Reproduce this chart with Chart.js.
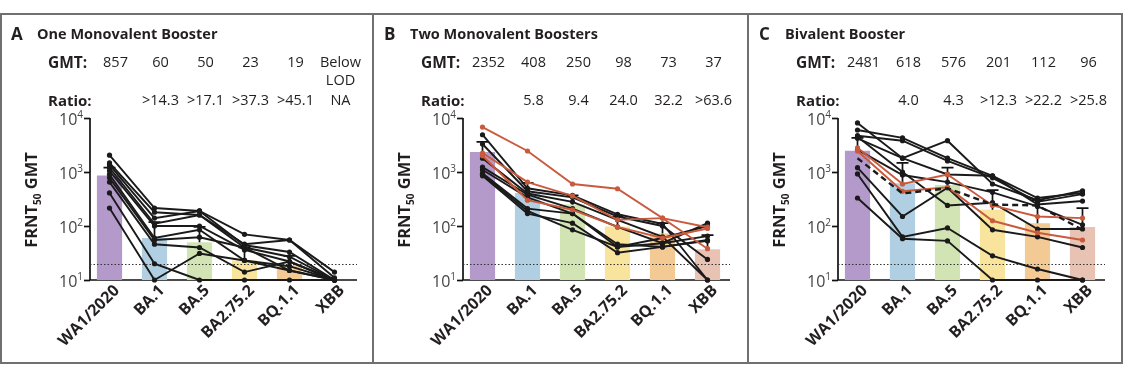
<!DOCTYPE html>
<html><head><meta charset="utf-8">
<script src="https://cdn.jsdelivr.net/npm/chart.js@4"></script>
<style>
body{margin:0;background:#fff;width:1125px;height:381px;overflow:hidden;position:relative;font-family:'Open Sans',sans-serif;color:#231f20}
.frame{position:absolute;left:0;top:13px;width:1119px;height:347px;border:2px solid #707070}
.dv{position:absolute;top:13px;width:2px;height:351px;background:#707070}
canvas{position:absolute}
.t{position:absolute;white-space:nowrap}
sup{font-size:10px;position:relative;top:-7px;vertical-align:baseline}
sub{font-size:10px;position:relative;top:4px;vertical-align:baseline}
</style></head><body>
<div class="frame"></div>
<div class="dv" style="left:372px"></div>
<div class="dv" style="left:747px"></div>
<canvas id="cA" width="372" height="348" style="left:1px;top:14px"></canvas>
<canvas id="cB" width="372" height="348" style="left:374px;top:14px"></canvas>
<canvas id="cC" width="372" height="348" style="left:749px;top:14px"></canvas>
<script>
// ---------- data ----------
const categories = ['WA1/2020','BA.1','BA.5','BA2.75.2','BQ.1.1','XBB'];
const yTickValues = [10, 100, 1000, 10000];
const yTickLabels = ['10<sup>1</sup>','10<sup>2</sup>','10<sup>3</sup>','10<sup>4</sup>'];
const lod = 20;

// Panel A
const titleA = 'One Monovalent Booster';
const gmtA = [857, 60, 50, 23, 19, null];
const errA = [1200, 118, 96, 40, 28, null];
const gmtTextA = ['857','60','50','23','19','Below\nLOD'];
const ratioTextA = ['','>14.3','>17.1','>37.3','>45.1','NA'];
const blackA = [
  [2050, 215, 190, 70, 55, 14],
  [1480, 180, 160, 46, 55, 11],
  [1350, 140, 190, 44, 33, 10],
  [1200, 110, 160, 40, 27, 10],
  [1050, 100, 100, 36, 22, 10],
  [900, 60, 85, 23, 18, 10],
  [780, 55, 62, 40, 15, 10],
  [650, 46, 40, 14, 22, 10],
  [410, 20, 10, 10, 10, 10],
  [215, 10, 31, 23, 15, 10]
];
const redA = [];
const dashA = [];

// Panel B
const titleB = 'Two Monovalent Boosters';
const gmtB = [2352, 408, 250, 98, 73, 37];
const errB = [3600, 630, 370, 147, 113, 68];
const gmtTextB = ['2352','408','250','98','73','37'];
const ratioTextB = ['','5.8','9.4','24.0','32.2','>63.6'];
const blackB = [
  [4900, 500, 370, 165, 110, 10],
  [3300, 440, 340, 150, 100, 24],
  [1800, 400, 280, 130, 63, 10],
  [1230, 380, 210, 96, 48, 113],
  [1100, 340, 170, 46, 41, 53],
  [950, 210, 170, 41, 48, 65],
  [850, 170, 113, 32, 41, 55],
  [900, 190, 85, 41, 60, 100]
];
const redB = [
  [6800, 2450, 600, 490, 140, 95],
  [2250, 650, 360, 130, 140, 38],
  [2000, 300, 200, 96, 60, 90]
];
const dashB = [];

// Panel C
const titleC = 'Bivalent Booster';
const gmtC = [2481, 618, 576, 201, 112, 96];
const errC = [4300, 1470, 1200, 460, 300, 215];
const gmtTextC = ['2481','618','576','201','112','96'];
const ratioTextC = ['','4.0','4.3','>12.3','>22.2','>25.8'];
const blackC = [
  [8100, 1800, 3800, 600, 300, 450],
  [6000, 4300, 1800, 850, 330, 410],
  [4700, 3800, 1600, 780, 280, 390],
  [4200, 1800, 900, 850, 250, 290],
  [4500, 1000, 240, 270, 88, 88],
  [2600, 880, 650, 420, 230, 105],
  [1200, 150, 510, 85, 63, 40],
  [920, 63, 92, 28, 16, 10],
  [330, 58, 53, 10, 10, 10]
];
const redC = [
  [2800, 600, 900, 240, 150, 140],
  [2450, 440, 520, 125, 75, 55]
];
const dashC = [1800, 400, 500, 250, 240, 85];

// ---------- style ----------
const barColors = ['#b39aca','#b0cfe2','#d2e4b3','#f8e49c','#f3c994','#e8c3b4'];
const black = '#1a1a1a';
const red = '#c95a3e';

const decor = {
  id: 'decor',
  beforeDatasetsDraw(chart) {
    const {ctx, chartArea: a, scales: {y}} = chart;
    const ax = a.left + 3;
    ctx.save();
    ctx.strokeStyle = '#111'; ctx.lineWidth = 1.7;
    ctx.beginPath();
    ctx.moveTo(ax, a.top); ctx.lineTo(ax, a.bottom); ctx.lineTo(a.right, a.bottom);
    ctx.stroke();
    yTickValues.forEach(v => {
      const py = Math.round(y.getPixelForValue(v)) + 0.5;
      ctx.beginPath(); ctx.moveTo(ax - 6, py); ctx.lineTo(ax, py); ctx.stroke();
    });
    ctx.restore();
  },
  afterDatasetDraw(chart, args) {
    if (args.index !== 0) return;
    const {ctx, chartArea: a, scales: {x, y}} = chart;
    const cfg = chart.options.plugins.decor;
    ctx.save();
    ctx.strokeStyle = '#333'; ctx.lineWidth = 1; ctx.setLineDash([1.5, 2]);
    const yl = Math.round(y.getPixelForValue(lod)) + 0.5;
    ctx.beginPath(); ctx.moveTo(a.left + 3, yl); ctx.lineTo(a.right, yl); ctx.stroke();
    ctx.setLineDash([]);
    ctx.strokeStyle = '#111'; ctx.lineWidth = 1.7;
    cfg.gmt.forEach((g, i) => {
      const e = cfg.err[i];
      if (g == null || e == null) return;
      const px = x.getPixelForValue(i);
      const y0 = y.getPixelForValue(g), y1 = y.getPixelForValue(e);
      ctx.beginPath(); ctx.moveTo(px, y0); ctx.lineTo(px, y1);
      ctx.moveTo(px - 6, y1); ctx.lineTo(px + 6, y1); ctx.stroke();
    });
    ctx.restore();
  }
};

function lineDs(d, color, order, dash) {
  return {
    type: 'line', data: d, borderColor: color, backgroundColor: color,
    borderWidth: dash ? 2.4 : 1.9, borderDash: dash ? [6, 4] : [],
    pointRadius: dash ? 0 : 2.6, pointBackgroundColor: color, pointBorderWidth: 0,
    tension: 0, order: order, clip: 8
  };
}

function makePanel(id, left, letter, title, gmt, err, gmtText, ratioText, blacks, reds, dash) {
  const datasets = [{
    type: 'bar', data: gmt.map(v => v == null ? null : v), backgroundColor: barColors,
    barPercentage: 0.56, categoryPercentage: 1, order: 10
  }];
  blacks.forEach(d => datasets.push(lineDs(d, black, 2)));
  reds.forEach(d => datasets.push(lineDs(d, red, 1)));
  if (dash.length) datasets.push(lineDs(dash, black, 0, true));
  const chart = new Chart(document.getElementById(id), {
    data: {labels: categories, datasets},
    options: {
      responsive: false, animation: false, devicePixelRatio: 1,
      layout: {padding: {left: 86, right: 16, top: 104, bottom: 82}},
      plugins: {legend: {display: false}, tooltip: {enabled: false}, decor: {gmt, err}},
      scales: {
        x: {type: 'category', offset: true, grid: {display: false, drawTicks: false}, border: {display: false},
            ticks: {display: false}, afterFit: s => { s.height = 0; }},
        y: {type: 'logarithmic', min: 10, max: 10000, grid: {display: false, drawTicks: false}, border: {display: false},
            ticks: {display: false}, afterFit: s => { s.width = 0; }}
      }
    },
    plugins: [decor]
  });
  const x = chart.scales.x, y = chart.scales.y, a = chart.chartArea;
  const top = 14;
  const T = (html, px, cy, align, css) => {
    const d = document.createElement('div');
    d.className = 't';
    d.innerHTML = html;
    const lh = 20;
    d.style.lineHeight = lh + 'px';
    d.style.height = lh + 'px';
    d.style.top = (cy - lh / 2) + 'px';
    if (align === 'left') { d.style.left = px + 'px'; }
    else if (align === 'center') { d.style.left = (px - 100) + 'px'; d.style.width = '200px'; d.style.textAlign = 'center'; }
    else { d.style.left = (px - 200) + 'px'; d.style.width = '200px'; d.style.textAlign = 'right'; }
    if (css) d.style.cssText += css;
    document.body.appendChild(d);
    return d;
  };
  T(letter, left + 10, 34, 'left', 'font-weight:700;font-size:17px;');
  T(title, left + 36, 34, 'left', 'font-weight:700;font-size:14.5px;');
  T('GMT:', left + 47, 62, 'left', 'font-weight:700;font-size:15.5px;');
  T('Ratio:', left + 47, 100, 'left', 'font-weight:700;font-size:15px;');
  categories.forEach((c, i) => {
    const cx = left + x.getPixelForValue(i) + 6;
    gmtText[i].split('\n').forEach((s, k) => T(s, cx, 62 + k * 18, 'center', 'font-size:14.5px;'));
    if (ratioText[i]) T(ratioText[i], cx, 100, 'center', 'font-size:14.5px;');
    const lx = left + x.getPixelForValue(i) + 6;
    T(c, lx, top + a.bottom + 7, 'right', 'font-weight:700;font-size:16px;transform-origin:100% 50%;transform:rotate(-45deg);');
  });
  yTickValues.forEach((v, i) => {
    T(yTickLabels[i], left + a.left - 4, top + y.getPixelForValue(v) + 1, 'right', 'font-size:16px;color:#444;');
  });
  T('FRNT<sub>50</sub> GMT', left + 30, 200, 'center', 'font-weight:700;font-size:16.5px;transform:rotate(-90deg);transform-origin:50% 50%;');
  return chart;
}

makePanel('cA', 1, 'A', titleA, gmtA, errA, gmtTextA, ratioTextA, blackA, redA, dashA);
makePanel('cB', 374, 'B', titleB, gmtB, errB, gmtTextB, ratioTextB, blackB, redB, dashB);
makePanel('cC', 749, 'C', titleC, gmtC, errC, gmtTextC, ratioTextC, blackC, redC, dashC);
</script>
</body></html>
